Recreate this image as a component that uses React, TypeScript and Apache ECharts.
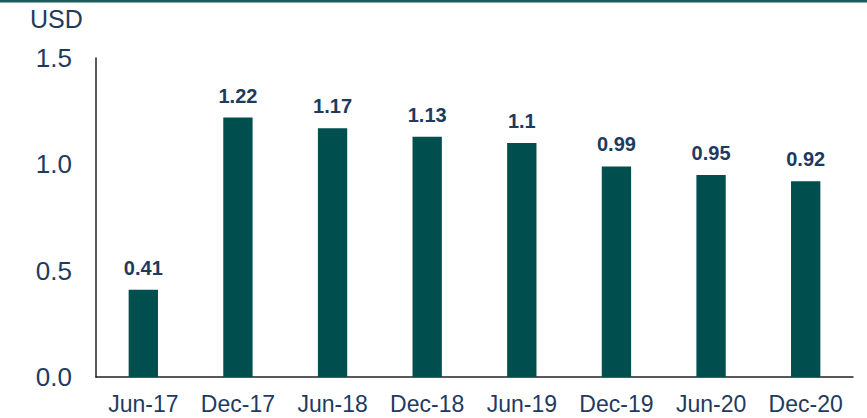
import React, { useEffect, useRef } from "react";
import * as echarts from "echarts";

const categories = ["Jun-17", "Dec-17", "Jun-18", "Dec-18", "Jun-19", "Dec-19", "Jun-20", "Dec-20"];
const values = [0.41, 1.22, 1.17, 1.13, 1.1, 0.99, 0.95, 0.92];
const yTicks = [0, 0.5, 1.0, 1.5];

const NAVY = "#1F3A5F";
const BAR = "#004F4F";
const FONT = "Liberation Sans, Arial, sans-serif";

export default function App() {
  const ref = useRef<HTMLDivElement>(null);
  useEffect(() => {
    const chart = echarts.init(ref.current!, null, { renderer: "svg" });
    chart.setOption({
      animation: false,
      backgroundColor: "#ffffff",
      textStyle: { fontFamily: FONT },
      graphic: [
        { type: "rect", left: 0, top: 0, shape: { x: 0, y: 0, width: 867, height: 2.5 }, style: { fill: "#1E5B5B" } },
        { type: "text", left: 30, top: 6, style: { text: "USD", fontSize: 25, fill: NAVY, fontFamily: FONT } },
      ],
      grid: { left: 96, right: 14, top: 58, bottom: 41, containLabel: false },
      xAxis: {
        type: "category",
        data: categories,
        axisLine: { show: true, lineStyle: { color: "#222", width: 1.5 } },
        axisTick: { show: false },
        axisLabel: { color: NAVY, fontSize: 23, margin: 15, interval: 0 },
      },
      yAxis: {
        type: "value",
        min: 0,
        max: 1.5,
        interval: 0.5,
        axisLine: { show: true, lineStyle: { color: "#222", width: 1.5 } },
        axisTick: { show: false },
        splitLine: { show: false },
        axisLabel: {
          color: NAVY,
          fontSize: 26,
          margin: 24,
          formatter: (v: number) => {
            const t = yTicks.find((x) => Math.abs(x - v) < 1e-9);
            return (t !== undefined ? t : v).toFixed(1);
          },
        },
      },
      series: [
        {
          type: "bar",
          data: values,
          barWidth: "31%",
          itemStyle: { color: BAR },
          label: {
            show: true,
            position: "top",
            distance: 12,
            color: NAVY,
            fontSize: 20,
            fontWeight: "bold",
            fontFamily: FONT,
            formatter: (p: any) => String(p.value),
          },
        },
      ],
    });
    return () => chart.dispose();
  }, []);
  return <div ref={ref} style={{ position: "fixed", left: 0, top: 0, width: 867, height: 418 }} />;
}
